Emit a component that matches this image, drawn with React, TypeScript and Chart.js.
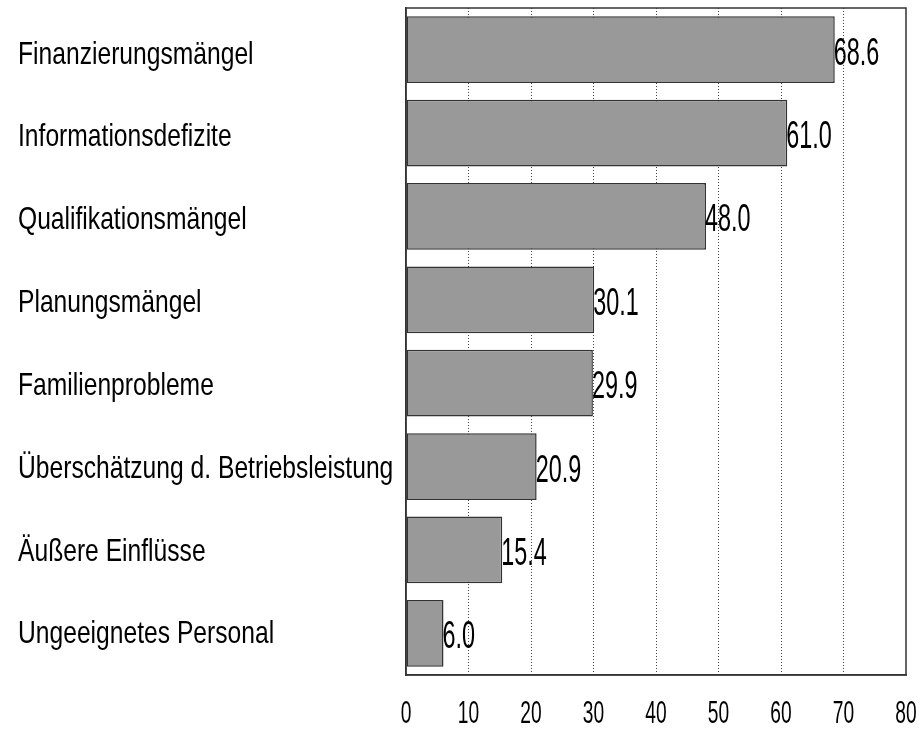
import React, { useEffect, useRef } from "react";
import { Chart, registerables } from "chart.js";

Chart.register(...registerables);

const categories = [
  "Finanzierungsmängel",
  "Informationsdefizite",
  "Qualifikationsmängel",
  "Planungsmängel",
  "Familienprobleme",
  "Überschätzung d. Betriebsleistung",
  "Äußere Einflüsse",
  "Ungeeignetes Personal",
];
const values = [68.6, 61.0, 48.0, 30.1, 29.9, 20.9, 15.4, 6.0];
const xTicks = [0, 10, 20, 30, 40, 50, 60, 70, 80];

const FONT = "'Liberation Sans', Arial, sans-serif";

function drawStretched(ctx: any, text: string, x: number, y: number, size: number, sx: number, align: string) {
  ctx.save();
  ctx.translate(x, y);
  ctx.scale(sx, 1);
  ctx.font = `${size}px ${FONT}`;
  ctx.textAlign = align;
  ctx.textBaseline = "alphabetic";
  ctx.fillText(text, 0, 0);
  ctx.restore();
}

const boxPlugin = {
  id: "boxPlugin",
  afterDraw(chart: any) {
    const { ctx, chartArea } = chart;
    ctx.save();
    ctx.strokeStyle = "#333333";
    ctx.lineWidth = 1.5;
    ctx.setLineDash([]);
    ctx.strokeRect(chartArea.left, chartArea.top, chartArea.right - chartArea.left, chartArea.bottom - chartArea.top);
    ctx.restore();
  },
};

const labelPlugin = {
  id: "labelPlugin",
  afterDatasetsDraw(chart: any) {
    const { ctx, chartArea } = chart;
    const meta = chart.getDatasetMeta(0);
    const xs = chart.scales.x;
    const ys = chart.scales.y;
    ctx.save();
    ctx.fillStyle = "#000000";
    // value labels
    meta.data.forEach((bar: any, i: number) => {
      drawStretched(ctx, values[i].toFixed(1), bar.x - 1, bar.y + 15, 39, 0.6, "left");
    });
    // category labels
    categories.forEach((c, i) => {
      const y = ys.getPixelForTick(i);
      drawStretched(ctx, c, 18, y + 14 - 0.57 * i, 32, 0.77, "left");
    });
    // x tick labels
    xTicks.forEach((v) => {
      const x = xs.getPixelForValue(v);
      drawStretched(ctx, String(v), x, chartArea.bottom + 48, 32, 0.6, "center");
    });
    ctx.restore();
  },
};

export default function App() {
  const canvasRef = useRef<HTMLCanvasElement | null>(null);

  useEffect(() => {
    if (!canvasRef.current) return;
    const chart = new Chart(canvasRef.current, {
      type: "bar",
      data: {
        labels: categories,
        datasets: [
          {
            data: values,
            backgroundColor: "#999999",
            borderColor: "#333333",
            borderWidth: 1.5,
            borderSkipped: false,
            barPercentage: 0.8,
            categoryPercentage: 1,
          },
        ],
      },
      options: {
        indexAxis: "y",
        animation: false,
        responsive: true,
        maintainAspectRatio: false,
        layout: { padding: { left: 18, top: 8, right: 16, bottom: 0 } },
        plugins: {
          legend: { display: false },
          tooltip: { enabled: false },
        },
        scales: {
          x: {
            type: "linear",
            min: 0,
            max: 80,
            afterBuildTicks(scale: any) {
              scale.ticks = xTicks.map((v) => ({ value: v }));
            },
            afterFit(scale: any) {
              scale.height = 55;
            },
            grid: {
              drawTicks: false,
              tickLength: 0,
              color: (c: any) =>
                c.tick && (c.tick.value === 0 || c.tick.value === 80) ? "rgba(0,0,0,0)" : "#444444",
              lineWidth: 1,
            },
            border: { display: true, color: "#333333", width: 1.5, dash: [1, 2] },
            ticks: { display: false },
          },
          y: {
            afterFit(scale: any) {
              scale.width = 388;
            },
            grid: { display: false, drawTicks: false },
            border: { display: true, color: "#333333", width: 1.5 },
            ticks: { display: false },
          },
        },
      },
      plugins: [boxPlugin, labelPlugin],
    } as any);
    return () => chart.destroy();
  }, []);

  return (
    <div style={{ position: "fixed", left: 0, top: 0, width: 922, height: 730, background: "#ffffff" }}>
      <canvas ref={canvasRef} />
    </div>
  );
}
